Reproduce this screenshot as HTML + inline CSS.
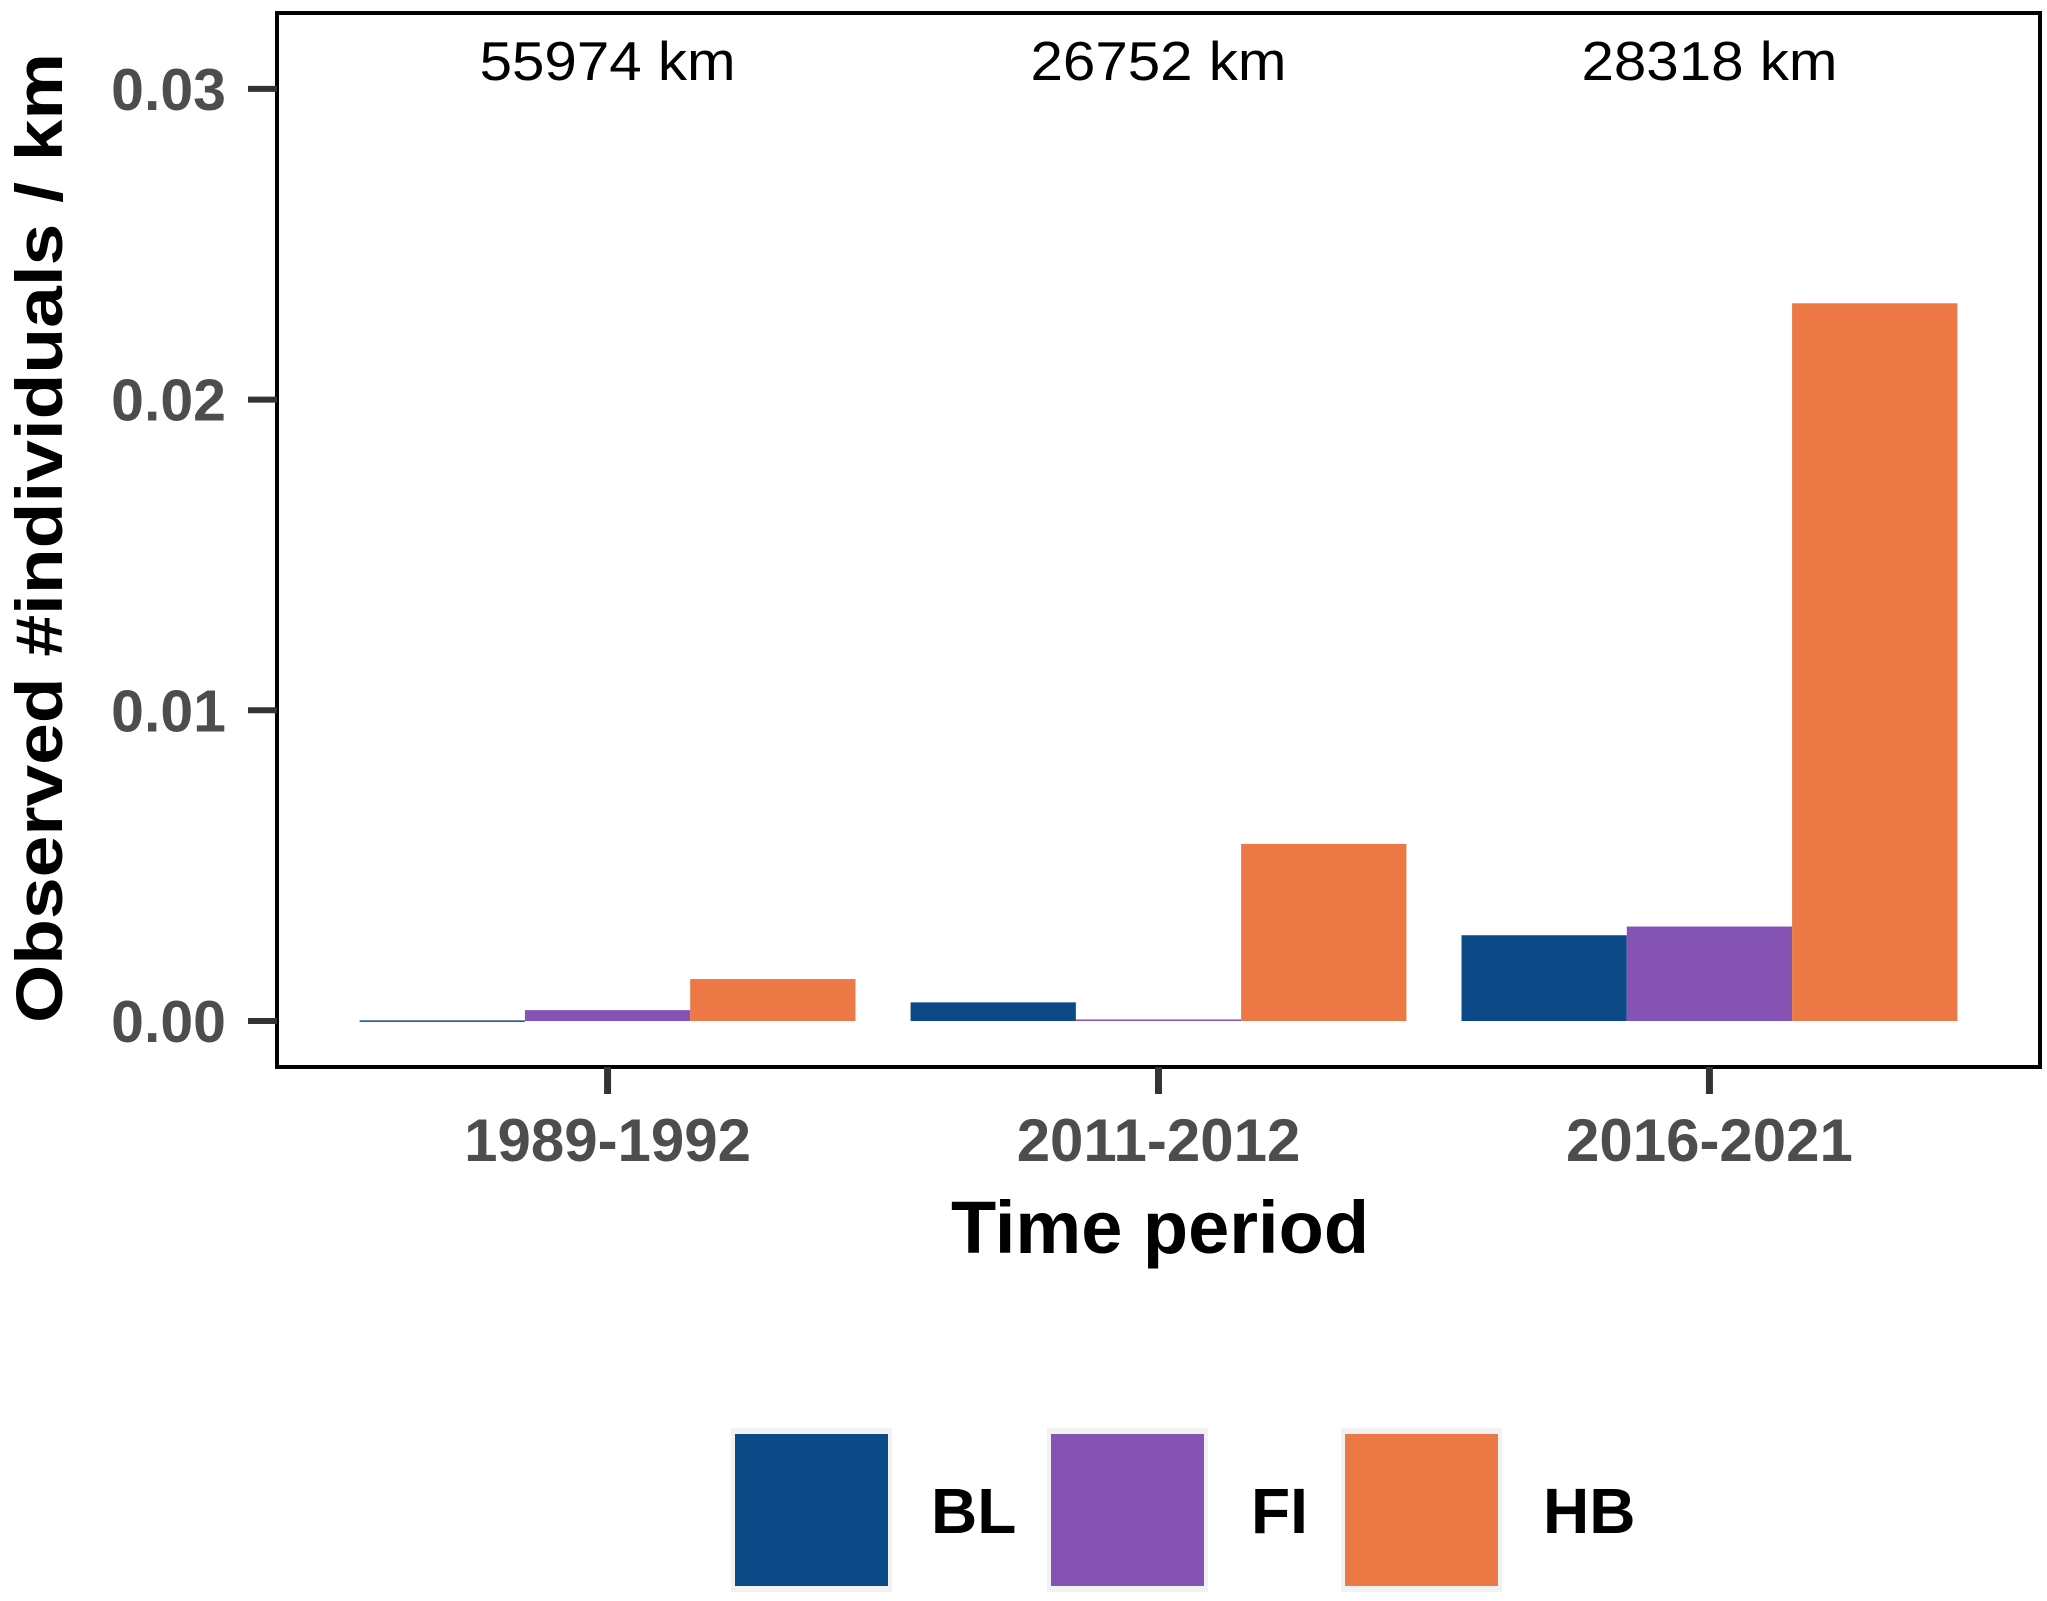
<!DOCTYPE html>
<html><head><meta charset="utf-8"><style>
html,body{margin:0;padding:0;background:#fff;}
svg{display:block;font-family:"Liberation Sans",sans-serif;}
</style></head><body>
<svg id="chart" width="2047" height="1601" viewBox="0 0 2047 1601">
<rect x="0" y="0" width="2047" height="1601" fill="#fff"/>
<g id="bars"></g>
<rect x="277" y="13" width="1763" height="1054" fill="none" stroke="#000" stroke-width="4"/>
<g id="axes"></g>
<text x="39" y="538" transform="rotate(-90 39 538)" text-anchor="middle" dominant-baseline="central" font-weight="bold" font-size="66" fill="#000" textLength="970" lengthAdjust="spacingAndGlyphs">Observed #individuals / km</text>
<text x="1160" y="1253" text-anchor="middle" font-weight="bold" font-size="74" fill="#000">Time period</text>
<g id="legend"></g>
</svg>
<script>
const categories = ["1989-1992", "2011-2012", "2016-2021"];
const distances = ["55974 km", "26752 km", "28318 km"];
const seriesNames = ["BL", "FI", "HB"];
const valuesBL = [0.00002, 0.0006, 0.00276];
const valuesFI = [0.00035, 0.00005, 0.00304];
const valuesHB = [0.00135, 0.0057, 0.0231];
const yTicks = [0, 0.01, 0.02, 0.03];
const yTickLabels = ["0.00", "0.01", "0.02", "0.03"];

const colors = ["#0c4a87", "#8453b4", "#ec7845"];
const NS = "http://www.w3.org/2000/svg";
const plotL = 277, plotR = 2040;
function xScale(i) { return plotL + (i + 1 - 0.4) * (plotR - plotL) / 3.2; }
function yScale(v) { return 1021 - v * 31070; }
const band = (plotR - plotL) / 3.2 * 0.9;
const series = [valuesBL, valuesFI, valuesHB];

const bars = document.getElementById('bars');
series.forEach((vals, s) => {
  vals.forEach((v, i) => {
    const r = document.createElementNS(NS, 'rect');
    const w = band / 3;
    const x = xScale(i) - band / 2 + s * w;
    const y = yScale(v);
    r.setAttribute('x', x); r.setAttribute('y', y);
    r.setAttribute('width', w); r.setAttribute('height', Math.max(yScale(0) - y, 1.5));
    r.setAttribute('fill', colors[s]);
    
    
    bars.appendChild(r);
  });
});

const axes = document.getElementById('axes');
yTicks.forEach((t, i) => {
  const y = yScale(t);
  const l = document.createElementNS(NS, 'line');
  l.setAttribute('x1', 248); l.setAttribute('x2', 277); l.setAttribute('y1', y); l.setAttribute('y2', y);
  l.setAttribute('stroke', '#333'); l.setAttribute('stroke-width', 6);
  
  
  axes.appendChild(l);
  const tx = document.createElementNS(NS, 'text');
  tx.setAttribute('x', 226); tx.setAttribute('y', y + 21);
  tx.setAttribute('text-anchor', 'end'); tx.setAttribute('font-weight', 'bold');
  tx.setAttribute('font-size', 59); tx.setAttribute('fill', '#4d4d4d');
  tx.textContent = yTickLabels[i];
  
  
  axes.appendChild(tx);
});
categories.forEach((c, i) => {
  const x = xScale(i);
  const l = document.createElementNS(NS, 'line');
  l.setAttribute('x1', x); l.setAttribute('x2', x); l.setAttribute('y1', 1067); l.setAttribute('y2', 1094);
  l.setAttribute('stroke', '#333'); l.setAttribute('stroke-width', 7);
  
  
  axes.appendChild(l);
  const tx = document.createElementNS(NS, 'text');
  tx.setAttribute('x', x); tx.setAttribute('y', 1161);
  tx.setAttribute('text-anchor', 'middle'); tx.setAttribute('font-weight', 'bold');
  tx.setAttribute('font-size', 60); tx.setAttribute('fill', '#4d4d4d');
  tx.textContent = c;
  
  
  axes.appendChild(tx);
  const d = document.createElementNS(NS, 'text');
  d.setAttribute('x', x); d.setAttribute('y', 80);
  d.setAttribute('text-anchor', 'middle'); d.setAttribute('font-size', 55);
  d.setAttribute('fill', '#000');
  d.setAttribute('textLength', 256); d.setAttribute('lengthAdjust', 'spacingAndGlyphs');
  d.textContent = distances[i];
  
  
  axes.appendChild(d);
});

const legend = document.getElementById('legend');
const keyX = [735, 1051, 1345];
const labX = [931, 1251, 1543];
seriesNames.forEach((n, s) => {
  const bg = document.createElementNS(NS, 'rect');
  bg.setAttribute('x', keyX[s] - 4); bg.setAttribute('y', 1428);
  bg.setAttribute('width', 161); bg.setAttribute('height', 164);
  bg.setAttribute('fill', '#f2f2f2');
  
  
  legend.appendChild(bg);
  const r = document.createElementNS(NS, 'rect');
  r.setAttribute('x', keyX[s]); r.setAttribute('y', 1434);
  r.setAttribute('width', 153); r.setAttribute('height', 152);
  r.setAttribute('fill', colors[s]);
  
  
  legend.appendChild(r);
  const t = document.createElementNS(NS, 'text');
  t.setAttribute('x', labX[s]); t.setAttribute('y', 1533);
  t.setAttribute('font-weight', 'bold'); t.setAttribute('font-size', 64);
  t.setAttribute('fill', '#000');
  t.textContent = n;
  
  
  legend.appendChild(t);
});
</script>
</body></html>
